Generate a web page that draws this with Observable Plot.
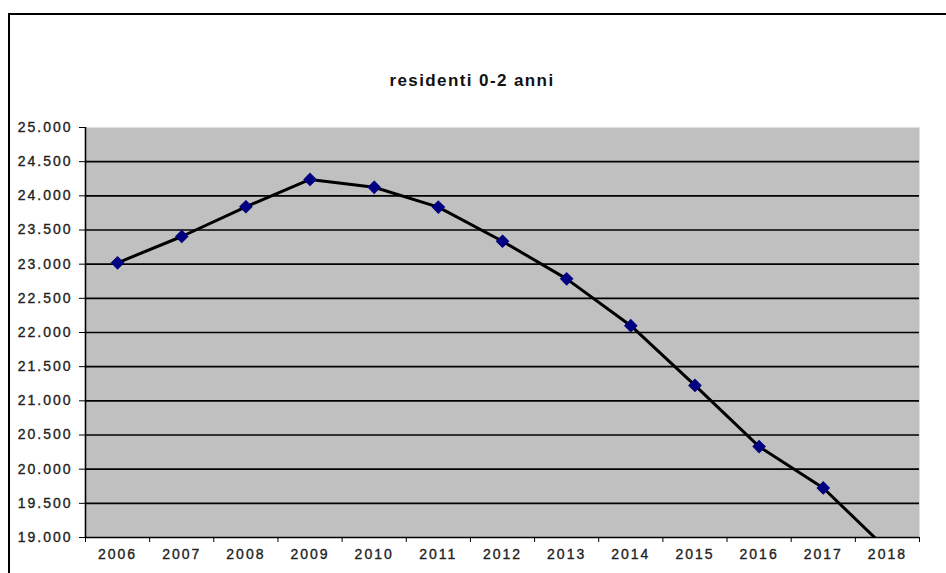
<!DOCTYPE html>
<html>
<head>
<meta charset="utf-8">
<script src="https://cdn.jsdelivr.net/npm/d3@7"></script>
<script src="https://cdn.jsdelivr.net/npm/@observablehq/plot@0.6"></script>
<style>
  html, body { margin: 0; padding: 0; background: #fff; }
  #wrap { position: relative; width: 946px; height: 573px; overflow: hidden; }
  #border { position: absolute; left: 8px; top: 13px; right: -20px; bottom: -20px;
            border-left: 2px solid #000; border-top: 2px solid #000; }
  #title { position: absolute; left: 0; width: 944px; top: 71px; text-align: center;
           font-family: "Liberation Sans", Arial, sans-serif; font-weight: bold;
           font-size: 17px; letter-spacing: 1.4px; color: #111; }
  #chart { position: absolute; left: 0; top: 0; }
  #chart svg text { letter-spacing: 2px; stroke: #222; stroke-width: 0.35px; }
</style>
</head>
<body>
<div id="wrap">
  <div id="border"></div>
  <div id="chart"></div>
  <div id="title">residenti 0-2 anni</div>
</div>
<script>
const years = [2006, 2007, 2008, 2009, 2010, 2011, 2012, 2013, 2014, 2015, 2016, 2017, 2018];
const residents = [23020, 23405, 23840, 24240, 24125, 23835, 23335, 22785, 22100, 21225, 20330, 19725, 18820];
const yTicks = [19000, 19500, 20000, 20500, 21000, 21500, 22000, 22500, 23000, 23500, 24000, 24500, 25000];
const xDomain = [years[0] - 0.5, years[years.length - 1] + 0.5];
const xBoundaries = years.map(y => y - 0.5).concat([xDomain[1]]);

const data = years.map((year, i) => ({year, value: residents[i]}));
const fmt = d => d3.format(",")(d).replace(/,/g, ".");

const chart = Plot.plot({
  width: 946,
  height: 573,
  marginLeft: 85,
  marginRight: 27,
  marginTop: 127,
  marginBottom: 36,
  style: {fontFamily: "'Liberation Sans', Arial, sans-serif", fontSize: "14px", color: "#222", background: "transparent"},
  x: {type: "linear", domain: xDomain},
  y: {type: "linear", domain: [yTicks[0], yTicks[yTicks.length - 1]]},
  marks: [
    Plot.frame({fill: "#c0c0c0"}),
    Plot.gridY(yTicks.slice(1, -1), {stroke: "#000", strokeOpacity: 1, strokeWidth: 1.6}),
    Plot.line(data, {x: "year", y: "value", stroke: "#000", strokeWidth: 3, clip: true}),
    Plot.dot(data, {x: "year", y: "value", symbol: "diamond2", fill: "#000080", stroke: "#000080", strokeWidth: 1.2, r: 5.4, clip: true}),
    Plot.ruleX([xDomain[0]], {stroke: "#000", strokeWidth: 1.6}),
    Plot.ruleY([yTicks[0]], {stroke: "#000", strokeWidth: 1.6}),
    Plot.axisY({ticks: yTicks, tickFormat: fmt, tickSize: 6, tickPadding: 7, label: null, stroke: "#000"}),
    Plot.axisX({ticks: xBoundaries, tickFormat: () => "", tickSize: 5, label: null, stroke: "#000"}),
    Plot.axisX({ticks: years, tickFormat: d => String(d), tickSize: 0, tickPadding: 12, label: null})
  ]
});
document.getElementById("chart").appendChild(chart);
</script>
</body>
</html>
